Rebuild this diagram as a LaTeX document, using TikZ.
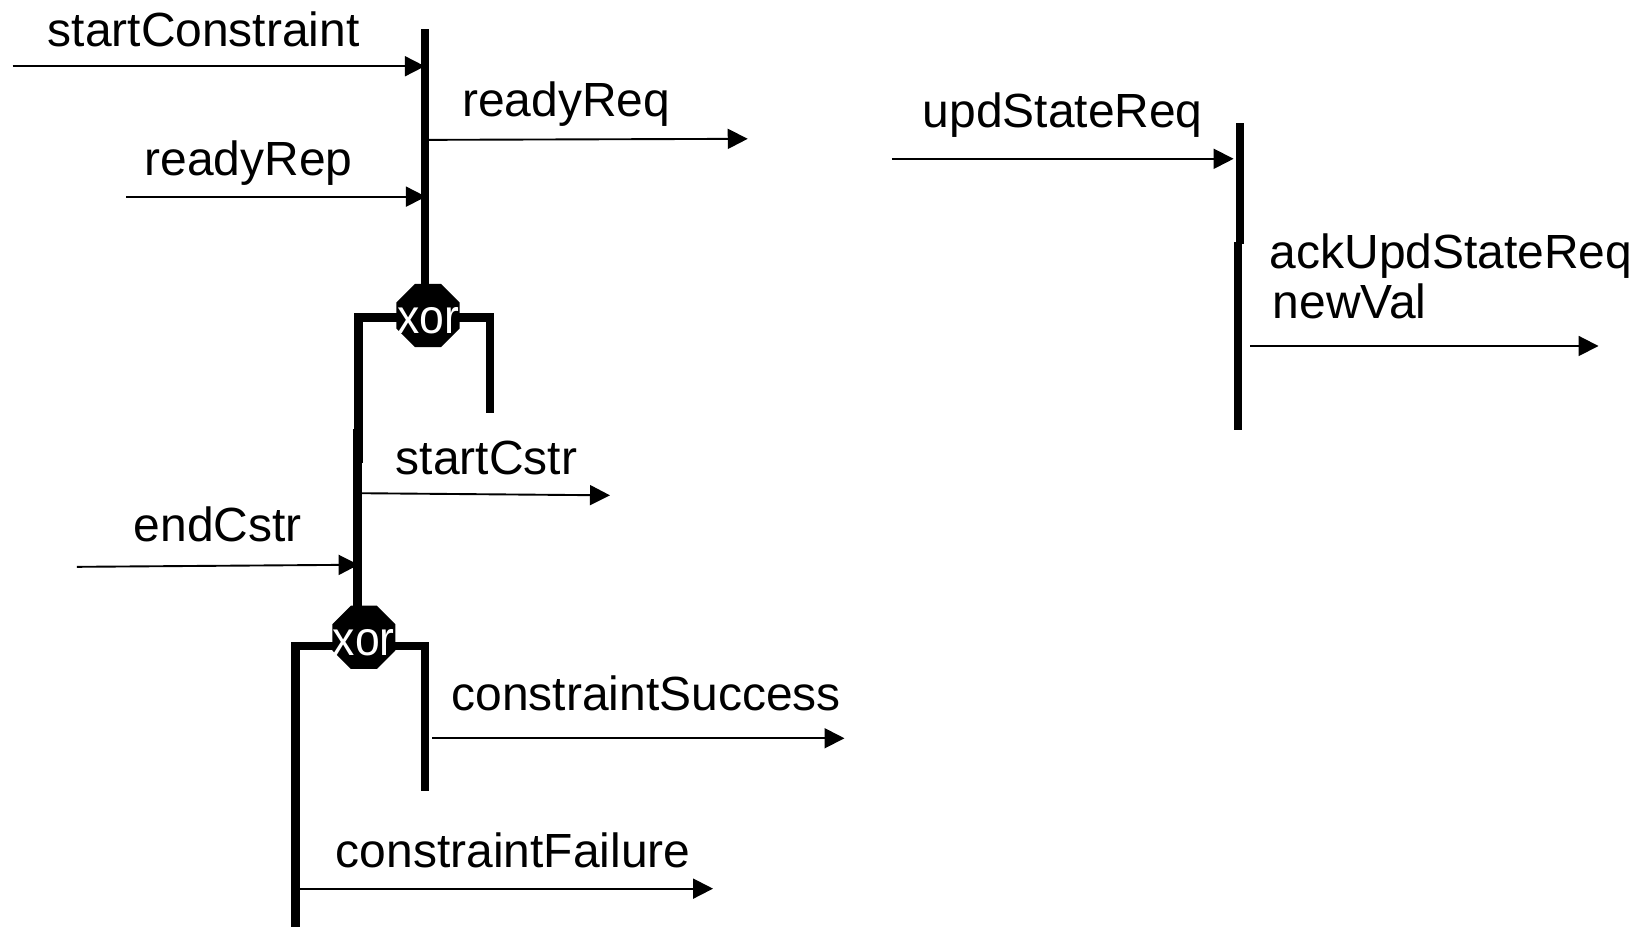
\documentclass[tikz,border=0pt]{standalone}
\usepackage{fontspec}
\setmainfont{Liberation Sans}
\usetikzlibrary{arrows.meta,shapes.geometric,backgrounds}

\tikzset{
  lbl/.style={anchor=base west, inner sep=0pt, font=\fontsize{22.8pt}{27pt}\selectfont},
  msg/.style={line width=0.9pt, -{Triangle[length=9.5pt,width=9.5pt]}},
  bar/.style={line width=4pt, line cap=butt, line join=miter},
  xorgate/.style={regular polygon, regular polygon sides=8, fill=black, draw=none,
    inner sep=0pt, minimum size=32.5pt},
  gatetext/.style={text=white, inner sep=0pt, yshift=-2.5pt,
    font=\fontsize{23pt}{26pt}\selectfont}
}
\newcommand{\gatename}{\scalebox{0.92}[1]{xor}}

\begin{document}
\begin{tikzpicture}[x=0.5pt,y=-0.5pt]
\useasboundingbox (0,0) rectangle (1568,881);

% xor gates
\node[xorgate, label={[gatetext]center:\gatename}] (x1) at (407,300) {};
\node[xorgate, label={[gatetext]center:\gatename}] (x2) at (346,606) {};

% bar end points
\coordinate (b1top) at (404,28);
\coordinate (j1l)   at (341,302);
\coordinate (j1r)   at (466,302);
\coordinate (j1rend) at (466,393);
\coordinate (j1lend) at (341,440);
\coordinate (c1top) at (340,408);
\coordinate (j2l)   at (281,614);
\coordinate (j2r)   at (404,614);
\coordinate (j2rend) at (404,752);
\coordinate (j2lend) at (281,890);
\coordinate (r1top) at (1179,117);
\coordinate (r1bot) at (1179,232);
\coordinate (r2top) at (1177,230);
\coordinate (r2bot) at (1177,409);

% thick synchronisation bars, behind the gates
\begin{scope}[on background layer]
  \draw[bar] (b1top) -- (b1top |- x1.center);
  \draw[bar] (j1lend) -- (j1l) -- (j1r) -- (j1rend);
  \draw[bar] (c1top) -- (c1top |- x2.center);
  \draw[bar] (j2lend) -- (j2l) -- (j2r) -- (j2rend);
  \draw[bar] (r1top) -- (r1bot);
  \draw[bar] (r2top) -- (r2bot);
\end{scope}

% message labels
\node[lbl] (tStart)   at (45,44)    {startConstraint};
\node[lbl] (tRdyReq)  at (439,111)  {readyReq};
\node[lbl] (tRdyRep)  at (137,167)  {readyRep};
\node[lbl] (tUpd)     at (877,121)  {updStateReq};
\node[lbl] (tAck)     at (1207,255) {ackUpdStateReq};
\node[lbl] (tNew)     at (1210,303) {newVal};
\node[lbl] (tSC)      at (376,451)  {startCstr};
\node[lbl] (tEC)      at (127,515)  {endCstr};
\node[lbl] (tSucc)    at (429,676)  {constraintSuccess};
\node[lbl] (tFail)    at (319,825)  {constraintFailure};

% message arrow end points
\coordinate (a1s) at (12,63);    \coordinate (a1e) at (404,63);
\coordinate (a2s) at (120,187);  \coordinate (a2e) at (405,187);
\coordinate (a3s) at (408,133);  \coordinate (a3e) at (711,132);
\coordinate (a4s) at (344,469);  \coordinate (a4e) at (580,471);
\coordinate (a5s) at (73,539);   \coordinate (a5e) at (341,537);
\coordinate (a6s) at (411,702);  \coordinate (a6e) at (803,702);
\coordinate (a7s) at (285,845);  \coordinate (a7e) at (678,845);
\coordinate (a8s) at (848,151);  \coordinate (a8e) at (1173,151);
\coordinate (a9s) at (1189,329); \coordinate (a9e) at (1520,329);

\draw[msg] (a1s) -- (a1e);
\draw[msg] (a2s) -- (a2e);
\draw[msg] (a3s) -- (a3e);
\draw[msg] (a4s) -- (a4e);
\draw[msg] (a5s) -- (a5e);
\draw[msg] (a6s) -- (a6e);
\draw[msg] (a7s) -- (a7e);
\draw[msg] (a8s) -- (a8e);
\draw[msg] (a9s) -- (a9e);
\end{tikzpicture}
\end{document}
